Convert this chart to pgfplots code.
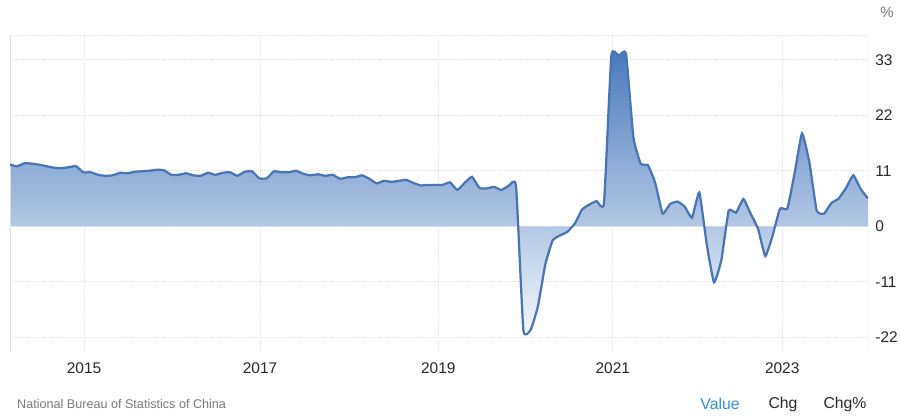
\documentclass[border=0pt]{standalone}
\usepackage{fontspec}
\setmainfont{Liberation Sans}
\usepackage{pgfplots}
\pgfplotsset{compat=1.18}
\usepackage{pgfplotstable}
\definecolor{linec}{RGB}{72,118,180}
\definecolor{topc}{RGB}{70,120,188}
\definecolor{botc}{RGB}{248,250,254}
\definecolor{gridc}{RGB}{222,222,222}
\definecolor{axc}{RGB}{212,212,212}
\definecolor{tickc}{RGB}{40,40,40}
\definecolor{srcc}{RGB}{120,120,120}
\definecolor{valc}{RGB}{52,145,215}

% k = point index (0 = Mar 2014); Jan 2022 is not in the series
\pgfplotstableread{
k v
0 12.2
1 11.9
2 12.5
3 12.4
4 12.2
5 11.9
6 11.6
7 11.5
8 11.7
9 11.9
10 10.7
11 10.7
12 10.2
13 10.0
14 10.1
15 10.6
16 10.5
17 10.8
18 10.9
19 11.0
20 11.2
21 11.1
22 10.2
23 10.2
24 10.5
25 10.1
26 10.0
27 10.6
28 10.2
29 10.6
30 10.7
31 10.0
32 10.8
33 10.9
34 9.5
35 9.5
36 10.9
37 10.7
38 10.7
39 11.0
40 10.4
41 10.1
42 10.3
43 10.0
44 10.2
45 9.4
46 9.7
47 9.7
48 10.1
49 9.4
50 8.5
51 9.0
52 8.8
53 9.0
54 9.2
55 8.6
56 8.1
57 8.2
58 8.2
59 8.2
60 8.7
61 7.2
62 8.6
63 9.8
64 7.6
65 7.5
66 7.8
67 7.2
68 8.0
69 8.0
70 -20.5
71 -20.5
72 -15.8
73 -7.5
74 -2.8
75 -1.8
76 -1.1
77 0.5
78 3.3
79 4.3
80 5.0
81 4.6
82 33.8
83 33.8
84 34.2
85 17.7
86 12.4
87 12.1
88 8.5
89 2.5
90 4.4
91 4.9
92 3.9
93 1.7
94 6.7
95 -3.5
96 -11.1
97 -6.7
98 3.1
99 2.7
100 5.4
101 2.5
102 -0.5
103 -5.9
104 -1.8
105 3.5
106 3.5
107 10.6
108 18.4
109 12.7
110 3.1
111 2.5
112 4.6
113 5.5
114 7.6
115 10.1
116 7.4
117 5.5
}\retail

\begin{document}
\begin{tikzpicture}
\begin{axis}[
  at={(6.67pt,42.67pt)}, anchor=south west,
  scale only axis, width=572pt, height=211.33pt,
  xmin=0, xmax=117, ymin=-24.9, ymax=37.9,
  axis line style={draw=none},
  xtick={10.1,34.1,58.4,82.2,105.3}, xticklabels={2015,2017,2019,2021,2023},
  ytick={-22,-11,0,11,22,33}, yticklabels={-22,-11,0,11,22,33},
  yticklabel pos=right,
  major tick length=0pt,
  xmajorgrids, ymajorgrids,
  grid style={gridc, densely dotted, line width=0.6pt},
  tick label style={font=\fontsize{10.3}{12}\selectfont, text=tickc},
  xticklabel style={anchor=center, yshift=-10.7pt},
  yticklabel style={anchor=west, inner sep=0pt, xshift=4.7pt},
]
\addplot[top color=topc, bottom color=botc, draw=none, smooth, tension=0.25] table[x=k, y=v] {\retail} \closedcycle;
\draw[axc, line width=0.6pt] (rel axis cs:0,0) -- (rel axis cs:1,0) -- (rel axis cs:1,1.02);
\draw[gridc, line width=0.5pt] (rel axis cs:0,0) -- (rel axis cs:0,1);
\draw[gridc, densely dotted, line width=0.6pt] (rel axis cs:0,1) -- (rel axis cs:1,1);
\addplot[linec, line width=1.5pt, smooth, tension=0.25] table[x=k, y=v] {\retail};
\end{axis}
\path[use as bounding box] (0,0) rectangle (600pt,277.33pt);
\node[anchor=center, text=srcc, font=\fontsize{10}{12}\selectfont] at (591.3pt,269.3pt) {\%};
\node[anchor=west, inner sep=0pt, text=srcc, font=\fontsize{8.4}{10}\selectfont] at (11.3pt,8pt) {National Bureau of Statistics of China};
\node[anchor=center, text=valc, font=\fontsize{10.5}{12}\selectfont] at (480pt,8pt) {Value};
\node[anchor=center, text=tickc, font=\fontsize{10.5}{12}\selectfont] at (522pt,8pt) {Chg};
\node[anchor=center, text=tickc, font=\fontsize{10.5}{12}\selectfont] at (563.3pt,8pt) {Chg\%};
\end{tikzpicture}
\end{document}
